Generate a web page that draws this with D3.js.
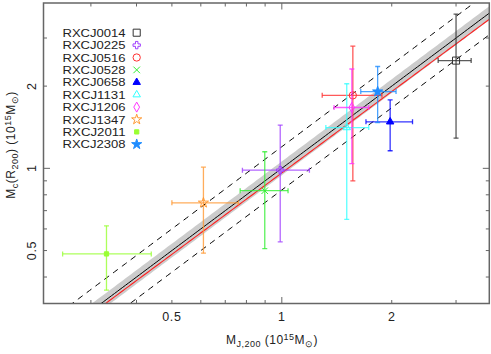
<!DOCTYPE html>
<html><head><meta charset="utf-8">
<script src="https://cdn.jsdelivr.net/npm/d3@7"></script>
<style>body{margin:0;background:#fff}svg{display:block}text{font-family:"Liberation Sans",Arial,Helvetica,sans-serif}</style>
</head><body><svg id="c" width="491" height="354"></svg>
<script>
const names = ["RXCJ0014","RXCJ0225","RXCJ0516","RXCJ0528","RXCJ0658","RXCJ1131","RXCJ1206","RXCJ1347","RXCJ2011","RXCJ2308"];
const colors = ["#333333","#a040ff","#ff3030","#33ee33","#0000ff","#33ffff","#ff33ff","#ff9933","#99ff33","#1e8cff"];
const shapes = ["square","cross","circle","times","triangle","triangle","diamond","star","smallsquare","star"];
const filled = [false,false,false,false,true,false,false,false,true,true];
const mJ   = [3.00, 0.99, 1.565, 0.898, 1.98, 1.506, 1.555, 0.61, 0.331, 1.83];
const mJlo = [2.68, 0.78, 1.29, 0.769, 1.70, 1.32, 1.39, 0.50, 0.251, 1.645];
const mJhi = [3.30, 1.19, 1.88, 1.04, 2.28, 1.73, 1.73, 0.76, 0.439, 2.055];
const mC   = [2.48, 0.985, 1.85, 0.828, 1.48, 1.41, 1.67, 0.748, 0.486, 1.91];
const mClo = [1.29, 0.538, 0.90, 0.508, 1.16, 0.65, 1.04, 0.489, 0.358, 1.47];
const mChi = [3.67, 1.44, 2.80, 1.15, 1.78, 2.04, 2.31, 1.01, 0.616, 2.36];
const xTicks = [0.3,0.4,0.5,0.6,0.7,0.8,0.9,1,2,3];
const yTicks = [0.4,0.5,0.6,0.7,0.8,0.9,1,2,3];
const tickLabels = [0.5,1,2];
const majorTicks = [1];
const bandFactor = 1.06, dashFactor = 1.2;
const fitNorm = 0.962, fitSlope = 0.99;
const xDomain = [0.2225, 3.70], yDomain = [0.32, 4.03];

const L=43.5, R=489.3, T=3, B=303.5;
const svg = d3.select("#c");
const x = d3.scaleLog().domain(xDomain).range([L,R]);
const y = d3.scaleLog().domain(yDomain).range([B,T]);

svg.append("defs").append("clipPath").attr("id","clip").append("rect")
  .attr("x",L).attr("y",T).attr("width",R-L).attr("height",B-T);
const g = svg.append("g").attr("clip-path","url(#clip)");

const xs = d3.range(0,201).map(i=>Math.pow(10, Math.log10(0.15)+i*(Math.log10(5)-Math.log10(0.15))/200));
const area = d3.area().x(d=>x(d)).y0(d=>y(d/bandFactor)).y1(d=>y(d*bandFactor));
g.append("path").datum(xs).attr("d",area).attr("fill","#cccccc");
const line = f => d3.line().x(d=>x(d)).y(d=>y(f(d)));
g.append("path").datum(xs).attr("d",line(d=>d*dashFactor)).attr("fill","none").attr("stroke","#000").attr("stroke-width",1).attr("stroke-dasharray","6,5");
g.append("path").datum(xs).attr("d",line(d=>d/dashFactor)).attr("fill","none").attr("stroke","#000").attr("stroke-width",1).attr("stroke-dasharray","6,5");
g.append("path").datum(xs).attr("d",line(d=>d)).attr("fill","none").attr("stroke","#000").attr("stroke-width",1);
g.append("path").datum(xs).attr("d",line(d=>fitNorm*Math.pow(d,fitSlope))).attr("fill","none").attr("stroke","#ff2020").attr("stroke-width",1.1);

function symPath(shape){
  const m = {square:[d3.symbolSquare,50],smallsquare:[d3.symbolSquare,18],cross:[d3.symbolCross,30],circle:[d3.symbolCircle,42],times:[d3.symbolTimes,30],
    triangle:[d3.symbolTriangle,24],diamond:[d3.symbolDiamond,29],star:[d3.symbolStar,32]};
  return d3.symbol().type(m[shape][0]).size(m[shape][1])();
}
const cap = 2.5;
names.forEach((n,i)=>{
  const c = colors[i];
  const eg = g.append("g").attr("stroke",c).attr("stroke-width",1.3).attr("stroke-opacity",0.8).attr("fill","none");
  const cx = x(mJ[i]), cy = y(mC[i]);
  eg.append("line").attr("x1",cx).attr("x2",cx).attr("y1",y(mClo[i])).attr("y2",y(mChi[i]));
  eg.append("line").attr("x1",cx-cap).attr("x2",cx+cap).attr("y1",y(mClo[i])).attr("y2",y(mClo[i]));
  eg.append("line").attr("x1",cx-cap).attr("x2",cx+cap).attr("y1",y(mChi[i])).attr("y2",y(mChi[i]));
  eg.append("line").attr("x1",x(mJlo[i])).attr("x2",x(mJhi[i])).attr("y1",cy).attr("y2",cy);
  eg.append("line").attr("x1",x(mJlo[i])).attr("x2",x(mJlo[i])).attr("y1",cy-cap).attr("y2",cy+cap);
  eg.append("line").attr("x1",x(mJhi[i])).attr("x2",x(mJhi[i])).attr("y1",cy-cap).attr("y2",cy+cap);
  g.append("path").attr("d",symPath(shapes[i])).attr("transform",`translate(${cx},${cy})`)
    .attr("fill",filled[i]?c:"none").attr("stroke",c).attr("stroke-width",1);
});

const fc = "#666";
svg.append("rect").attr("x",L).attr("y",T).attr("width",R-L).attr("height",B-T).attr("fill","none").attr("stroke",fc).attr("stroke-width",1.5);
const ax = svg.append("g").attr("stroke",fc).attr("stroke-width",1);
xTicks.forEach(v=>{
  const len = majorTicks.includes(v)?6.5:3.5, px=x(v);
  ax.append("line").attr("x1",px).attr("x2",px).attr("y1",B).attr("y2",B-len);
  ax.append("line").attr("x1",px).attr("x2",px).attr("y1",T).attr("y2",T+len);
});
yTicks.forEach(v=>{
  const len = majorTicks.includes(v)?6.5:3.5, py=y(v);
  ax.append("line").attr("x1",L).attr("x2",L+len).attr("y1",py).attr("y2",py);
  ax.append("line").attr("x1",R).attr("x2",R-len).attr("y1",py).attr("y2",py);
});
const fmt = v=>String(v);
tickLabels.forEach(v=>{
  svg.append("text").attr("x",x(v)).attr("y",321).attr("text-anchor","middle").attr("font-size",12.5).attr("letter-spacing",0.6).attr("fill","#222").text(fmt(v));
  svg.append("text").attr("transform",`translate(35.5,${y(v)}) rotate(-90)`).attr("text-anchor","middle").attr("font-size",12.5).attr("letter-spacing",0.6).attr("fill","#222").text(fmt(v));
});

const xt = svg.append("text").attr("x",272).attr("y",344).attr("text-anchor","middle").attr("font-size",12).attr("fill","#222").attr("letter-spacing",0.5);
xt.append("tspan").text("M");
xt.append("tspan").attr("font-size",9).attr("dy",3).text("J,200");
xt.append("tspan").attr("dy",-3).text("  (10");
xt.append("tspan").attr("font-size",9).attr("dy",-4.5).text("15");
xt.append("tspan").attr("dy",4.5).text("M");
xt.append("tspan").attr("font-size",9).attr("dy",3).text("⊙");
xt.append("tspan").attr("dy",-3).text(")");

const yt = svg.append("text").attr("transform","translate(15,145) rotate(-90)").attr("text-anchor","middle").attr("font-size",12).attr("fill","#222").attr("letter-spacing",0.5);
yt.append("tspan").text("M");
yt.append("tspan").attr("font-size",9).attr("dy",3).text("c");
yt.append("tspan").attr("dy",-3).text("(R");
yt.append("tspan").attr("font-size",9).attr("dy",3).text("200");
yt.append("tspan").attr("dy",-3).text(")  (10");
yt.append("tspan").attr("font-size",9).attr("dy",-4.5).text("15");
yt.append("tspan").attr("dy",4.5).text("M");
yt.append("tspan").attr("font-size",9).attr("dy",3).text("⊙");
yt.append("tspan").attr("dy",-3).text(")");

names.forEach((n,i)=>{
  const ly = 32.7 + i*12.4;
  svg.append("text").attr("x",62.5).attr("y",ly+4.1).attr("font-size",11).attr("textLength",63).attr("lengthAdjust","spacingAndGlyphs").attr("fill","#222").text(n);
  svg.append("path").attr("d",symPath(shapes[i])).attr("transform",`translate(136.7,${ly})`)
    .attr("fill",filled[i]?colors[i]:"none").attr("stroke",colors[i]).attr("stroke-width",1);
});
</script></body></html>
